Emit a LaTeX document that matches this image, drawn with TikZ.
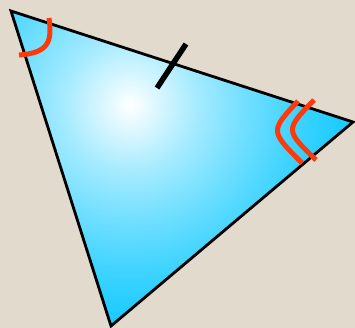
\documentclass[tikz,border=0pt]{standalone}
\definecolor{bg}{HTML}{E2DACD}
\definecolor{markred}{HTML}{FF3A0A}
\definecolor{tricyan}{HTML}{1ECCFF}
\pgfdeclareradialshading{triglow}{\pgfpoint{0bp}{0bp}}{%
  color(0bp)=(white);
  color(1.5bp)=(white!85!tricyan);
  color(4bp)=(white!60!tricyan);
  color(7bp)=(white!36!tricyan);
  color(10bp)=(white!14!tricyan);
  color(12.5bp)=(tricyan);
  color(50bp)=(tricyan)}
\begin{document}
\begin{tikzpicture}[x=1pt,y=-1pt,
  outline/.style={draw=black,line width=2.8pt,line join=miter},
  anglemark/.style={draw=markred,line width=5pt,line cap=butt},
  tickmark/.style={draw=black,line width=5.5pt}]
\fill[bg] (0,0) rectangle (355,328);
\useasboundingbox (0,0) rectangle (355,328);
\coordinate (A) at (11,11);
\coordinate (B) at (353,122);
\coordinate (C) at (111,326);
\begin{scope}
  \clip (A) -- (B) -- (C) -- cycle;
  \shade[shading=triglow] (130,105) circle[radius=420];
\end{scope}
\draw[outline] (A) -- (B) -- (C) -- cycle;
% tick on side AB
\coordinate (t1) at (186,44);
\coordinate (t2) at (157,88);
\draw[tickmark] (t1) -- (t2);
% angle mark at A
\coordinate (a1) at (49,18);
\coordinate (a2) at (19,55);
\draw[anglemark] (a1) .. controls (52,40) and (50,53) .. (a2);
% double angle mark at B
\coordinate (b1) at (298,101);
\coordinate (b2) at (302,163);
\coordinate (b3) at (314,100);
\coordinate (b4) at (316,160);
\draw[anglemark] (b1) .. controls (270,131) .. (b2);
\draw[anglemark] (b3) .. controls (285,130) .. (b4);
\end{tikzpicture}
\end{document}
